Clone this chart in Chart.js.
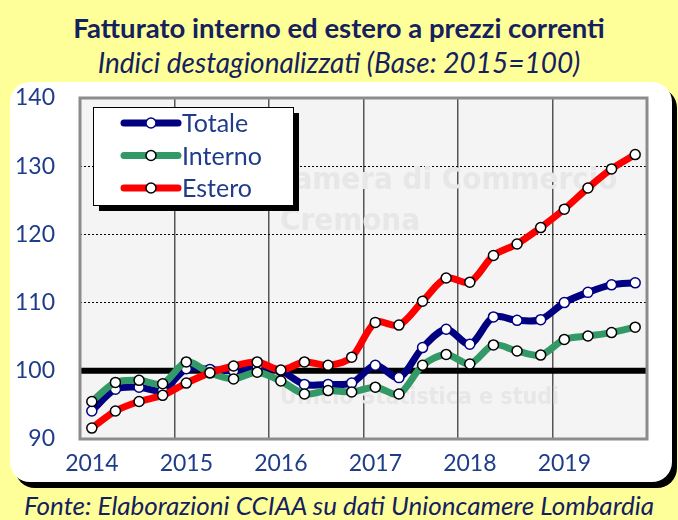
<!DOCTYPE html>
<html>
<head>
<meta charset="utf-8">
<script src="https://cdn.jsdelivr.net/npm/chart.js@4.4.1/dist/chart.umd.min.js"></script>
<style>
  html, body { margin: 0; padding: 0; }
  body { width: 678px; height: 520px; background: #FFFF99; position: relative; overflow: hidden; font-family: Lato, "Open Sans", sans-serif; color: #14215E; }
  .title { position: absolute; left: 0; width: 678px; text-align: center; top: 12px; font-size: 27.5px; line-height: 32px; font-weight: bold; }
  .subtitle { position: absolute; left: 0; width: 678px; text-align: center; top: 46px; font-size: 28px; line-height: 32px; font-style: italic; }
  .footer { position: absolute; left: 0; width: 678px; text-align: center; top: 489px; font-size: 26px; line-height: 32px; font-style: italic; }
  #box { position: absolute; left: 10px; top: 82px; width: 662px; height: 400px; background: #fff; border-radius: 20px; box-shadow: 5px 6px 0 #000; }
</style>
</head>
<body>
<div class="title">Fatturato interno ed estero a prezzi correnti</div>
<div class="subtitle">Indici destagionalizzati (Base: 2015=100)</div>
<div id="box"><canvas id="LineChart"></canvas></div>
<div class="footer">Fonte: Elaborazioni CCIAA su dati Unioncamere Lombardia</div>
<script>
// quarters 2014 Q1 .. 2019 Q4
const years = ["2014", "2015", "2016", "2017", "2018", "2019"];
const quarters = ["I", "II", "III", "IV"];
const yTicks = [90, 100, 110, 120, 130, 140];

const totale = [94.1, 97.3, 97.6, 97.1, 100.3, 100.2, 100.0, 100.6, 100.0, 98.0, 98.0, 98.2,
  100.8, 99.0, 103.4, 106.1, 103.9, 107.9, 107.4, 107.5, 110.0, 111.5, 112.6, 112.9];
const interno = [95.5, 98.3, 98.6, 98.1, 101.3, 99.7, 98.8, 99.8, 98.5, 96.6, 97.1, 96.9,
  97.6, 96.6, 100.8, 102.4, 101.0, 103.8, 102.9, 102.3, 104.6, 105.1, 105.6, 106.4];
const estero = [91.6, 94.1, 95.5, 96.4, 98.2, 99.7, 100.7, 101.3, 100.1, 101.3, 100.8, 102.0,
  107.1, 106.7, 110.2, 113.6, 113.0, 116.9, 118.6, 121.0, 123.7, 126.8, 129.6, 131.7];

const tickColor = "#1F3C88";

const labels = [];
years.forEach((y) => quarters.forEach((q) => labels.push(y + " " + q)));

//Plot background, watermark, frame, 100 line and legend
const plotDecor = {
  id: "plotDecor",
  beforeDraw(chart) {
    const { ctx, chartArea: a } = chart;
    ctx.save();
    ctx.fillStyle = "#F4F4F4";
    ctx.fillRect(a.left, a.top, a.right - a.left, a.bottom - a.top);
    ctx.restore();
  },
  beforeDatasetsDraw(chart) {
    const { ctx, chartArea: a } = chart;
    ctx.save();
    // faint watermark
    ctx.fillStyle = "#E7E7E7";
    ctx.textBaseline = "middle";
    ctx.font = "bold 31px 'DejaVu Sans Condensed', 'Liberation Sans Narrow', sans-serif";
    ctx.fillText("Camera di Commercio", a.left + 193, a.top + 83);
    ctx.fillText("Cremona", a.left + 200, a.top + 124);
    ctx.font = "bold 23px 'DejaVu Sans Condensed', 'Liberation Sans Narrow', sans-serif";
    ctx.fillText("Ufficio Statistica e studi", a.left + 200, a.top + 300);

    const y = chart.scales.y.getPixelForValue(100);
    ctx.strokeStyle = "#000";
    ctx.lineWidth = 6;
    ctx.beginPath();
    ctx.moveTo(a.left, y);
    ctx.lineTo(a.right, y);
    ctx.stroke();
    ctx.restore();
  },
  afterDraw(chart) {
    const { ctx, chartArea: a } = chart;
    ctx.save();
    ctx.strokeStyle = "#8C8C8C";
    ctx.lineWidth = 3;
    ctx.strokeRect(a.left, a.top, a.right - a.left, a.bottom - a.top);

    // legend box
    const lx = a.left + 13, ly = a.top + 9, lw = 200, lh = 98;
    ctx.fillStyle = "#000";
    ctx.fillRect(lx + 6, ly + 6, lw, lh);
    ctx.fillStyle = "#fff";
    ctx.fillRect(lx, ly, lw, lh);
    ctx.strokeStyle = "#000";
    ctx.lineWidth = 1;
    ctx.strokeRect(lx + 0.5, ly + 0.5, lw, lh);

    chart.data.datasets.forEach((ds, i) => {
      const ry = ly + 16 + i * 32.5;
      ctx.strokeStyle = ds.borderColor;
      ctx.lineWidth = 7;
      ctx.lineCap = "round";
      ctx.beginPath();
      ctx.moveTo(lx + 31, ry);
      ctx.lineTo(lx + 85, ry);
      ctx.stroke();
      ctx.beginPath();
      ctx.arc(lx + 58, ry, 5, 0, Math.PI * 2);
      ctx.fillStyle = "#fff";
      ctx.fill();
      ctx.lineWidth = 1.5;
      ctx.strokeStyle = ds.pointBorderColor;
      ctx.stroke();
      ctx.fillStyle = tickColor;
      ctx.font = "25px Lato";
      ctx.textBaseline = "middle";
      ctx.textAlign = "left";
      ctx.fillText(ds.label, lx + 89, ry + 1);
    });
    ctx.restore();
  },
};

function lineSet(label, data, color, pointBorder, order) {
  return {
    label: label,
    data: data,
    borderColor: color,
    borderWidth: 7,
    borderCapStyle: "round",
    borderJoinStyle: "round",
    tension: 0.3,
    pointRadius: 5,
    pointBackgroundColor: "#fff",
    pointBorderColor: pointBorder,
    pointBorderWidth: 1.5,
    order: order,
  };
}

const ctxline = document.getElementById("LineChart").getContext("2d");
const myLineChart = new Chart(ctxline, {
  type: "line",
  data: {
    labels: labels,
    datasets: [
      lineSet("Totale", totale, "#000080", "#000080", 3),
      lineSet("Interno", interno, "#339966", "#000", 2),
      lineSet("Estero", estero, "#FF0000", "#000", 1),
    ],
  },
  options: {
    responsive: true,
    maintainAspectRatio: false,
    animation: false,
    layout: { padding: { top: 16, right: 25, left: 0, bottom: 0 } },
    plugins: {
      legend: { display: false },
      tooltip: { enabled: false },
    },
    scales: {
      x: {
        type: "category",
        offset: true,
        afterFit: (scale) => { scale.height = 43; },
        border: { display: false },
        grid: {
          offset: true,
          drawTicks: false,
          lineWidth: 1.5,
          color: (c) => (c.index > 0 && c.index % 4 === 0 ? "#555" : "rgba(0,0,0,0)"),
        },
        ticks: {
          autoSkip: false,
          maxRotation: 0,
          padding: 11,
          color: tickColor,
          font: { family: "Lato", size: 23 },
          callback: (v, i) => (i % 4 === 0 ? years[i / 4] : ""),
        },
      },
      y: {
        min: yTicks[0],
        max: yTicks[yTicks.length - 1],
        afterFit: (scale) => {
          scale.width = 70;
          scale.paddingTop = 0;
          scale.paddingBottom = 0;
        },
        afterBuildTicks: (scale) => { scale.ticks = yTicks.map((v) => ({ value: v })); },
        border: { display: false, dash: [2, 2] },
        grid: {
          drawTicks: false,
          lineWidth: 1,
          color: (c) => (c.tick && c.tick.value > 100 && c.tick.value < 140 ? "#000" : "rgba(0,0,0,0)"),
        },
        ticks: {
          padding: 25,
          color: tickColor,
          font: { family: "Lato", size: 23 },
        },
      },
    },
  },
  plugins: [plotDecor],
});
</script>
</body>
</html>
